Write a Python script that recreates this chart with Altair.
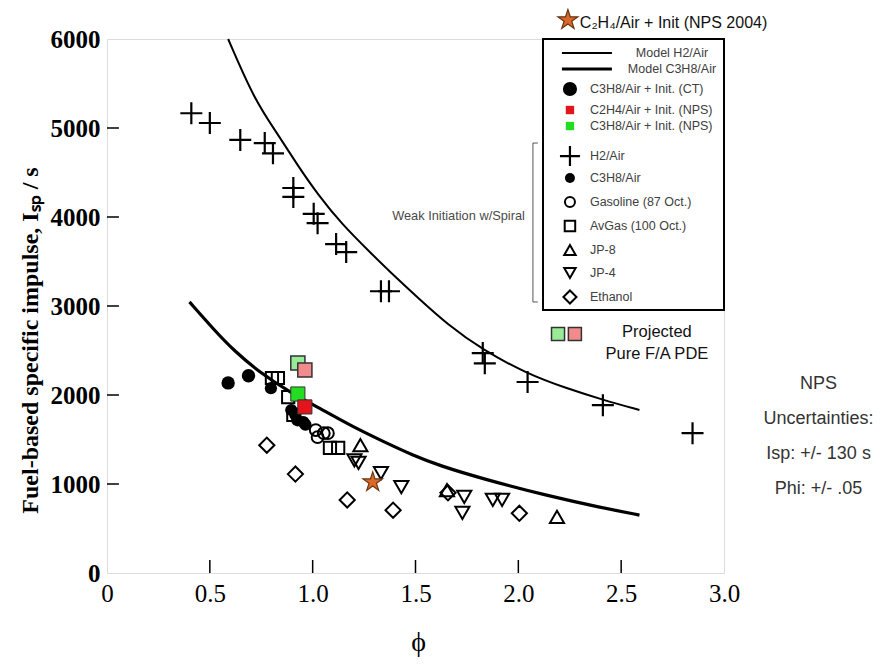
import altair as alt
import pandas as pd

# ---------------- values ----------------
# model curves
model_h2_phi = [0.589, 0.717, 0.826, 0.925, 1.024, 1.143, 1.282, 1.411, 1.510, 1.653, 1.827, 2.045, 2.233, 2.411, 2.589]
model_h2_isp = [6000, 5316, 4946, 4586, 4256, 3916, 3596, 3306, 3096, 2796, 2506, 2236, 2076, 1946, 1831]
model_c3_phi = [0.401, 0.519, 0.618, 0.747, 0.886, 1.054, 1.193, 1.332, 1.490, 1.619, 1.817, 2.144, 2.401, 2.589]
model_c3_isp = [3046, 2736, 2496, 2246, 2036, 1826, 1646, 1490, 1320, 1205, 1065, 866, 736, 651]

# measured points
h2_phi = [0.41, 0.50, 0.648, 0.767, 0.807, 0.906, 0.906, 1.005, 1.024, 1.114, 1.163, 1.332, 1.371,
          1.827, 1.837, 2.045, 2.411, 2.847]
h2_isp = [5166, 5056, 4866, 4831, 4716, 4326, 4226, 4036, 3931, 3696, 3606, 3166, 3166,
          2471, 2356, 2146, 1886, 1571]
ct_phi = [0.589, 0.688]
ct_isp = [2136, 2216]
c3_phi = [0.797, 0.896, 0.916, 0.926, 0.955, 0.965]
c3_isp = [2076, 1831, 1776, 1716, 1696, 1666]
gas_phi = [1.015, 1.024, 1.054, 1.074]
gas_isp = [1606, 1526, 1571, 1571]
avgas_phi = [0.802, 0.831, 0.881, 0.906, 1.084, 1.124]
avgas_isp = [2191, 2191, 1976, 1776, 1406, 1406]
jp8_phi = [1.232, 1.653, 2.188]
jp8_isp = [1436, 931, 631]
jp4_phi = [1.203, 1.223, 1.332, 1.431, 1.737, 1.728, 1.876, 1.921]
jp4_isp = [1266, 1236, 1121, 966, 856, 676, 821, 821]
eth_phi = [0.777, 0.916, 1.168, 1.391, 1.658, 2.005]
eth_isp = [1436, 1111, 821, 706, 901, 671]
c2h4_nps_phi = [0.962]
c2h4_nps_isp = [1866]
c3h8_nps_phi = [0.928]
c3h8_nps_isp = [2011]
proj_c2h4_phi = [0.962]
proj_c2h4_isp = [2281]
proj_c3h8_phi = [0.928]
proj_c3h8_isp = [2359]
star_phi = [1.292]
star_isp = [1021]

x_ticks = [0, 0.5, 1.0, 1.5, 2.0, 2.5, 3.0]
y_ticks = [0, 1000, 2000, 3000, 4000, 5000, 6000]

legend_labels = ["Model H2/Air", "Model C3H8/Air", "C3H8/Air + Init. (CT)",
                 "C2H4/Air + Init. (NPS)", "C3H8/Air + Init. (NPS)", "H2/Air",
                 "C3H8/Air", "Gasoline (87 Oct.)", "AvGas (100 Oct.)", "JP-8",
                 "JP-4", "Ethanol"]
legend_rows = [5843, 5663, 5438, 5202, 5022, 4685, 4438, 4169, 3899, 3629, 3371, 3101]

note_lines = ["NPS", "Uncertainties:", "Isp: +/- 130 s", "Phi: +/- .05"]
note_rows = [2124, 1730, 1337, 944]

# ---------------- chart ----------------
SERIF = "Liberation Serif"
SANS = "Liberation Sans"

X = alt.X("phi:Q",
          scale=alt.Scale(domain=[0, 3], nice=False, zero=False),
          axis=alt.Axis(orient="bottom", values=x_ticks,
                        labelExpr="datum.value == 0 ? '0' : format(datum.value, '.1f')",
                        ticks=False, tickSize=0, domain=False, grid=False,
                        labelFont=SERIF, labelFontSize=25, labelColor="black",
                        labelPadding=8, labelFlush=False, labelOverlap=False,
                        title="ϕ", titleFont=SERIF, titleFontSize=28, titleFontWeight="normal",
                        titleColor="black", titleX=311, titleY=69, titleBaseline="middle",
                        titleAlign="center"))
Y = alt.Y("isp:Q",
          scale=alt.Scale(domain=[0, 6000], nice=False, zero=False),
          axis=alt.Axis(orient="left", values=y_ticks, format="d",
                        ticks=False, tickSize=0, domain=False, grid=False,
                        labelFont=SERIF, labelFontSize=25, labelFontWeight="bold", labelColor="black",
                        labelPadding=7, labelFlush=False, labelOverlap=False,
                        title="Fuel-based specific impulse, Iₛₚ / s", titleFont=SERIF,
                        titleFontSize=24, titleFontWeight="bold", titleColor="black",
                        titleX=-77, titleY=301, titleAngle=270, titleBaseline="middle",
                        titleAlign="center"))


def df(phi, isp):
    return pd.DataFrame({"phi": phi, "isp": isp})


def hollow(phi, isp, shape, size, sw=2.0):
    return alt.Chart(df(phi, isp)).mark_point(
        shape=shape, size=size, filled=False, color="black", strokeWidth=sw, opacity=1
    ).encode(x=X, y=Y)


def solid(phi, isp, shape, size, fill, stroke=None, sw=0.0):
    kw = dict(shape=shape, size=size, filled=True, fill=fill, opacity=1, strokeWidth=sw)
    if stroke:
        kw["stroke"] = stroke
    return alt.Chart(df(phi, isp)).mark_point(**kw).encode(x=X, y=Y)


def segs(phi, phi2, isp, isp2, color="black", sw=1.5):
    return (alt.Chart(pd.DataFrame({"phi": phi, "phi2": phi2, "isp": isp, "isp2": isp2}))
            .mark_rule(color=color, strokeWidth=sw)
            .encode(x=X, x2=alt.X2("phi2:Q"), y=Y, y2=alt.Y2("isp2:Q")))


def texts(phi, isp, labels, align, size, color, font=SANS):
    return (alt.Chart(pd.DataFrame({"phi": phi, "isp": isp, "label": labels}))
            .mark_text(align=align, baseline="middle", font=font, fontSize=size, color=color)
            .encode(x=X, y=Y, text="label:N"))


PLUS = "M-1,0H1M0,-1V1"
STAR = ("M0,-1L0.2245,-0.309L0.951,-0.309L0.3633,0.118L0.588,0.809L0,0.382"
        "L-0.588,0.809L-0.3633,0.118L-0.951,-0.309L-0.2245,-0.309Z")

layers = []

# inward tick marks (from the tick arrays)
ytk = [v for v in y_ticks if 0 < v < 6000]
xtk = [v for v in x_ticks if 0 < v < 3]
layers.append(segs([0.0] * len(ytk), [0.058] * len(ytk), ytk, ytk))
layers.append(segs(xtk, xtk, [0] * len(xtk), [146] * len(xtk)))

# model curves
layers.append(alt.Chart(df(model_h2_phi, model_h2_isp)).mark_line(
    color="black", strokeWidth=2, interpolate="basis").encode(x=X, y=Y))
layers.append(alt.Chart(df(model_c3_phi, model_c3_isp)).mark_line(
    color="black", strokeWidth=3.2, interpolate="basis").encode(x=X, y=Y))

# data series
layers.append(hollow(h2_phi, h2_isp, PLUS, 484, sw=2.2))
layers.append(solid(ct_phi, ct_isp, "circle", 180, "black"))
layers.append(hollow(avgas_phi, avgas_isp, "square", 150))
layers.append(solid(c3_phi, c3_isp, "circle", 150, "black"))
layers.append(hollow(gas_phi, gas_isp, "circle", 140))
layers.append(hollow(jp8_phi, jp8_isp, "triangle-up", 200))
layers.append(hollow(jp4_phi, jp4_isp, "triangle-down", 200))
layers.append(hollow(eth_phi, eth_isp, "diamond", 230))
layers.append(solid(proj_c3h8_phi, proj_c3h8_isp, "square", 200, "#98ec98", "#333333", 1.5))
layers.append(solid(proj_c2h4_phi, proj_c2h4_isp, "square", 200, "#f28b8b", "#333333", 1.5))
layers.append(solid(c3h8_nps_phi, c3h8_nps_isp, "square", 200, "#22dd22", "#333333", 1.0))
layers.append(solid(c2h4_nps_phi, c2h4_nps_isp, "square", 200, "#e3141b", "#333333", 1.0))
layers.append(solid(star_phi, star_isp, STAR, 420, "#d8692a", "#6b3510", 1.2))

# ---------------- legend box ----------------
layers.append(alt.Chart(pd.DataFrame({"phi": [2.12], "phi2": [3.0], "isp": [6000], "isp2": [2955]}))
              .mark_rect(fill="white", stroke="black", strokeWidth=2)
              .encode(x=X, x2=alt.X2("phi2:Q"), y=Y, y2=alt.Y2("isp2:Q")))

sym_x = 2.251
line_x0, line_x1 = 2.212, 2.455
txt_x = 2.348
layers.append(segs([line_x0], [line_x1], [legend_rows[0]], [legend_rows[0]], sw=2))
layers.append(segs([line_x0], [line_x1], [legend_rows[1]], [legend_rows[1]], sw=3.2))
layers.append(solid([sym_x], [legend_rows[2]], "circle", 200, "black"))
layers.append(solid([sym_x], [legend_rows[3]], "square", 70, "#e3141b"))
layers.append(solid([sym_x], [legend_rows[4]], "square", 70, "#22dd22"))
layers.append(hollow([sym_x], [legend_rows[5]], PLUS, 400, sw=2.2))
layers.append(solid([sym_x], [legend_rows[6]], "circle", 100, "black"))
layers.append(hollow([sym_x], [legend_rows[7]], "circle", 100))
layers.append(hollow([sym_x], [legend_rows[8]], "square", 110))
layers.append(hollow([sym_x], [legend_rows[9]], "triangle-up", 130))
layers.append(hollow([sym_x], [legend_rows[10]], "triangle-down", 130))
layers.append(hollow([sym_x], [legend_rows[11]], "diamond", 170))

layers.append(texts([2.747, 2.747], legend_rows[:2], legend_labels[:2], "center", 12.5, "#404040"))
layers.append(texts([txt_x] * 10, legend_rows[2:], legend_labels[2:], "left", 12.5, "#404040"))

# bracket + "Weak Initiation w/Spiral"
layers.append(segs([2.071, 2.071, 2.071], [2.071, 2.095, 2.095],
                   [4831, 4831, 3045], [3045, 4831, 3045], color="#555555", sw=1))
layers.append(texts([2.032], [4011], ["Weak Initiation w/Spiral"], "right", 12.8, "#4a4a4a"))

# projected pure F/A PDE
layers.append(solid([2.193], [2685], "square", 170, "#98ec98", "#333333", 1.5))
layers.append(solid([2.275], [2685], "square", 170, "#f28b8b", "#333333", 1.5))
layers.append(texts([2.674, 2.674], [2708, 2461], ["Projected", "Pure F/A PDE"], "center", 16.5, "#111111"))

# top star annotation
layers.append(solid([2.241], [6213], STAR, 441, "#d8692a", "#6b3510", 1.2))
layers.append(texts([2.299], [6180], ["C₂H₄/Air + Init (NPS 2004)"], "left", 16, "#111111"))

# uncertainty note
layers.append(texts([3.46] * 4, note_rows, note_lines, "center", 18, "#333333"))

chart = alt.layer(*layers).properties(
    width=617, height=534,
    autosize=alt.AutoSizeParams(type="none"),
    padding={"left": 99, "top": 31, "right": 154, "bottom": 85},
).configure_view(stroke="black", strokeWidth=2).configure(background="white")

chart.save("out.html", embed_options={"renderer": "svg", "actions": False})
